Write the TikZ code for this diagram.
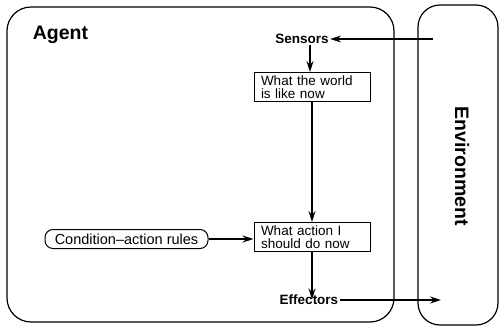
\documentclass[tikz,border=0pt]{standalone}
\usepackage{fontspec}
\setmainfont{Liberation Sans}
\usetikzlibrary{arrows.meta}
\begin{document}
\begin{tikzpicture}[x=1pt,y=-1pt,
  line width=1.1pt,
  arr/.style={-{Stealth[length=11pt,width=7pt]}},
  frame/.style={draw,line width=1.2pt,rounded corners=24pt},
  statebox/.style={draw,line width=1pt,rectangle,inner sep=0pt,
    minimum width=116pt,minimum height=29pt,
    font=\fontsize{13.5}{13}\selectfont,align=left,text width=102pt},
  rulebox/.style={draw,line width=1pt,rounded corners=8pt,inner sep=0pt,
    minimum width=163pt,minimum height=19pt,font=\fontsize{14.5}{15}\selectfont},
  port/.style={inner sep=1pt,font=\fontsize{13.5}{14}\selectfont\bfseries},
  title/.style={font=\fontsize{19.5}{20}\selectfont\bfseries}]
  \useasboundingbox (0,0) rectangle (499,330);

  % agent and environment frames
  \draw[frame] (7,7) rectangle (394,322);
  \draw[frame,rounded corners=22pt] (418,5) rectangle (498,325);

  \node[title,anchor=base west] (agent) at (29,39) {Agent};
  \node[title,rotate=-90] (env) at (462,166) {Environment};

  % internal components
  \node[port] (sensors) at (302,39) {Sensors};
  \node[statebox] (world) at (312,87) {What the world\\is like now};
  \node[statebox] (action) at (312,237) {What action I\\should do now};
  \node[rulebox] (rules) at (126.5,239) {Condition\textendash action rules};
  \node[port] (effectors) at (309,300) {Effectors};

  \coordinate (percept) at (433,39);
  \coordinate (act) at (441,300);

  % connectors
  \draw[arr] (percept) -- (sensors.east);
  \draw[arr] ([xshift=8pt]sensors.south) -- ([xshift=8pt]sensors.south |- world.north);
  \draw[arr] (world.south) -- (action.north);
  \draw[arr] (rules.east) -- (rules.east -| action.west);
  \draw[arr] (action.south) -- ([yshift=-6pt]action.south |- effectors.north);
  \draw[arr] (effectors.east) -- (act);
\end{tikzpicture}
\end{document}
